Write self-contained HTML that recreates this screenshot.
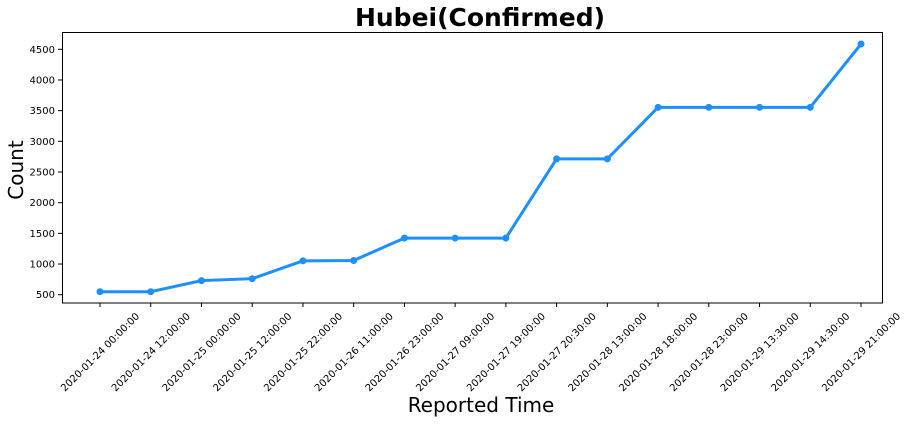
<!DOCTYPE html>
<html><head><meta charset="utf-8"><style>
body{margin:0;background:#fff;font-family:"DejaVu Sans","Liberation Sans",sans-serif}
</style></head><body>
<svg id="c" width="909" height="422" xmlns="http://www.w3.org/2000/svg">
<text x="480" y="26" text-anchor="middle" font-size="25" font-weight="bold" fill="#000">Hubei(Confirmed)</text>
<text x="481" y="412" text-anchor="middle" font-size="20" fill="#000">Reported Time</text>
<text transform="translate(23,170) rotate(-90)" text-anchor="middle" font-size="20" fill="#000">Count</text>
<rect x="62.5" y="32.5" width="820" height="270.5" fill="none" stroke="#000" stroke-width="1"/>
<g id="g"></g>
</svg>
<script>
const categories=["2020-01-24 00:00:00","2020-01-24 12:00:00","2020-01-25 00:00:00","2020-01-25 12:00:00","2020-01-25 22:00:00","2020-01-26 11:00:00","2020-01-26 23:00:00","2020-01-27 09:00:00","2020-01-27 19:00:00","2020-01-27 20:30:00","2020-01-28 13:00:00","2020-01-28 18:00:00","2020-01-28 23:00:00","2020-01-29 13:30:00","2020-01-29 14:30:00","2020-01-29 21:00:00"];
const values=[549,549,729,761,1052,1058,1423,1423,1423,2714,2714,3554,3554,3554,3554,4586];
const yTicks=[500,1000,1500,2000,2500,3000,3500,4000,4500];
const NS="http://www.w3.org/2000/svg",g=document.getElementById('g');
function xs(i){return 100+i*(861-100)/(categories.length-1);}
function ys(v){return 294.7-(v-500)*(245.4/4000);}
function mk(t,a){const e=document.createElementNS(NS,t);for(const k in a)e.setAttribute(k,a[k]);g.appendChild(e);return e;}
yTicks.forEach(v=>{const y=ys(v);
 const l=mk('line',{x1:58,x2:62,y1:y,y2:y,stroke:'#000'});
 
 
 const t=mk('text',{x:55,y:y+3.5,'text-anchor':'end','font-size':10,fill:'#000'});t.textContent=v;
 
 
});
categories.forEach((c,i)=>{const x=xs(i);
 const l=mk('line',{x1:x,x2:x,y1:303,y2:307,stroke:'#000'});
 
 
 const t=mk('text',{transform:`translate(${x},${352}) rotate(-45)`,'text-anchor':'middle','dy':'0.35em','font-size':10,fill:'#000'});t.textContent=c;
 
 
});
const p=mk('polyline',{points:values.map((v,i)=>xs(i)+','+ys(v)).join(' '),fill:'none',stroke:'#1e8fff','stroke-width':3,'stroke-linejoin':'round'});


values.forEach((v,i)=>{const c=mk('circle',{cx:xs(i),cy:ys(v),r:3.5,fill:'#1e8fff'});
 
 
});
</script>
</body></html>
